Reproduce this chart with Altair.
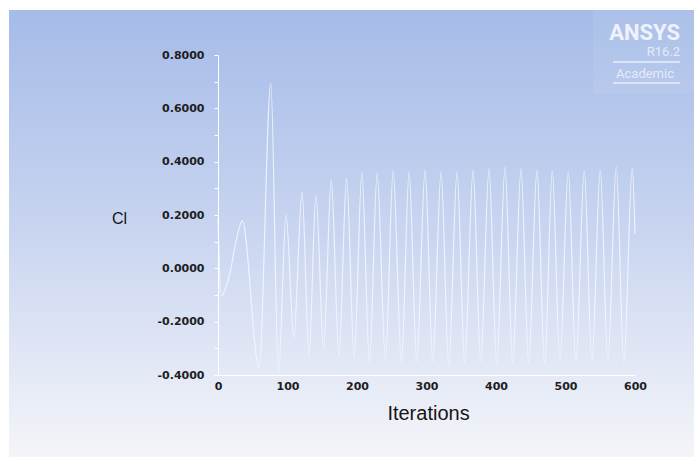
import altair as alt
import pandas as pd

# ---- data ----
iterations = [0, 2, 5, 10, 17, 25, 35, 59, 76, 87, 98, 109,
              121, 131, 141, 152, 163, 174, 185, 196, 207, 218, 229, 241,
              252, 264, 275, 286, 298, 309, 321, 332, 344, 355, 367, 378,
              390, 401, 413, 424, 436, 447, 459, 470, 481, 492, 504, 515,
              527, 538, 550, 561, 573, 584, 596, 600]
cl_values = [0.19, 0.0, -0.105, -0.08, -0.02, 0.09, 0.178, -0.37, 0.695, -0.39, 0.20, -0.26,
             0.286, -0.325, 0.275, -0.30, 0.333, -0.325, 0.337, -0.335, 0.357, -0.352, 0.357, -0.345,
             0.366, -0.355, 0.362, -0.35, 0.368, -0.35, 0.362, -0.365, 0.362, -0.355, 0.368, -0.35,
             0.372, -0.36, 0.38, -0.355, 0.372, -0.355, 0.368, -0.36, 0.365, -0.35, 0.362, -0.355,
             0.365, -0.35, 0.368, -0.352, 0.38, -0.355, 0.375, 0.13]

x_ticks = [0, 100, 200, 300, 400, 500, 600]
y_ticks = [-0.4, -0.3, -0.2, -0.1, 0.0, 0.1, 0.2, 0.3, 0.4, 0.5, 0.6, 0.7, 0.8]

x_title = "Iterations"
y_title = "Cl"
logo_main = "ANSYS"
logo_version = "R16.2"
logo_edition = "Academic"

df = pd.DataFrame({"Iterations": iterations, "Cl": cl_values})
one = alt.Data(values=[{"k": 1}])

W, H = 417, 320
PAD = {"left": 218, "top": 55, "right": 59, "bottom": 82}

gradient = {
    "gradient": "linear", "x1": 0, "y1": 0, "x2": 0, "y2": 1,
    "stops": [
        {"offset": 0.0, "color": "#a5bbe8"},
        {"offset": 0.5, "color": "#c9d5f0"},
        {"offset": 1.0, "color": "#f4f5f9"},
    ],
}

background = alt.Chart(one).mark_rect(fill=gradient).encode(
    x=alt.value(9 - PAD["left"]), x2=alt.value(694 - PAD["left"]),
    y=alt.value(10 - PAD["top"]), y2=alt.value(457 - PAD["top"]),
)

logo_box = alt.Chart(one).mark_rect(fill="white", opacity=0.08).encode(
    x=alt.value(593 - PAD["left"]), x2=alt.value(694 - PAD["left"]),
    y=alt.value(10 - PAD["top"]), y2=alt.value(93 - PAD["top"]),
)

logo_t1 = alt.Chart(one).mark_text(
    text=logo_main, font="Roboto", fontWeight="bold", fontSize=22,
    color="#eef2fb", align="right", baseline="alphabetic",
).encode(x=alt.value(680 - PAD["left"]), y=alt.value(40 - PAD["top"]))

logo_t2 = alt.Chart(one).mark_text(
    text=logo_version, font="Roboto", fontSize=13,
    color="#e4eaf8", align="right", baseline="alphabetic",
).encode(x=alt.value(680 - PAD["left"]), y=alt.value(56 - PAD["top"]))

logo_t3 = alt.Chart(one).mark_text(
    text=logo_edition, font="Roboto", fontSize=13,
    color="#e4eaf8", align="center", baseline="alphabetic",
).encode(x=alt.value(645 - PAD["left"]), y=alt.value(78 - PAD["top"]))

logo_r1 = alt.Chart(one).mark_rule(color="#e8eefa", strokeWidth=1.5).encode(
    x=alt.value(613 - PAD["left"]), x2=alt.value(680 - PAD["left"]), y=alt.value(62 - PAD["top"])
)
logo_r2 = alt.Chart(one).mark_rule(color="#e8eefa", strokeWidth=1.5).encode(
    x=alt.value(613 - PAD["left"]), x2=alt.value(680 - PAD["left"]), y=alt.value(83 - PAD["top"])
)

y_label_expr = ("abs(round(datum.value*10)) % 2 == 0 ? "
                "replace(format(datum.value, '.4f'), '\u2212', '-') : ''")

line = alt.Chart(df).mark_line(
    color="#f4f7fd", strokeWidth=1.2, opacity=0.85, interpolate="monotone"
).encode(
    x=alt.X("Iterations:Q",
            scale=alt.Scale(domain=[0, 600], nice=False, zero=False),
            axis=alt.Axis(values=x_ticks, format="d", ticks=False, tickSize=0,
                          labelFlush=False,
                          domainColor="white", domainWidth=1, grid=False, zindex=1,
                          labelFont="DejaVu Sans", labelFontWeight="bold",
                          labelFontSize=11, labelColor="#1e1e1e", labelPadding=5,
                          title=x_title, titleFont="Liberation Sans", titleFontSize=20,
                          titleFontWeight="normal", titleColor="#151515",
                          titleX=210, titleY=38, titleAlign="center",
                          titleBaseline="middle")),
    y=alt.Y("Cl:Q",
            scale=alt.Scale(domain=[-0.4, 0.8], nice=False, zero=False),
            axis=alt.Axis(values=y_ticks, labelExpr=y_label_expr, tickSize=4,
                          labelFlush=False,
                          tickColor="white", domainColor="white", domainWidth=1,
                          grid=False, zindex=1, labelFont="DejaVu Sans", labelFontWeight="bold",
                          labelFontSize=11, labelColor="#1e1e1e", labelPadding=10,
                          title=y_title, titleAngle=0, titleX=-99, titleY=163,
                          titleAlign="center", titleBaseline="middle",
                          titleFont="Liberation Sans", titleFontSize=16,
                          titleFontWeight="normal", titleColor="#151515")),
)

chart = alt.layer(
    background, logo_box, logo_r1, logo_r2, logo_t1, logo_t2, logo_t3, line
).properties(
    width=W, height=H, padding=PAD, autosize="none", background="white"
).configure_view(stroke=None)

chart.save("out.html", embed_options={"renderer": "svg", "actions": False})
